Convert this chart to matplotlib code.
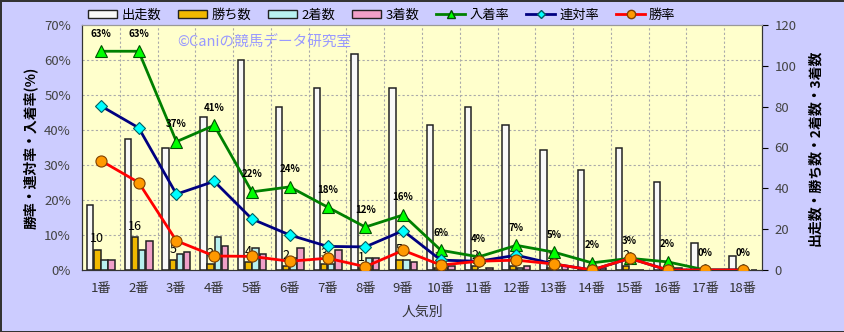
import numpy as np
import matplotlib.pyplot as plt
from matplotlib.patches import Patch
from matplotlib.lines import Line2D

plt.rcParams['font.family'] = ['Noto Sans CJK JP', 'DejaVu Sans']

# 人気別の成績
cats = [f"{i}番" for i in range(1, 19)]
starts = [32, 64, 60, 75, 103, 80, 89, 106, 89, 71, 80, 71, 59, 49, 60, 43, 13, 7]
wins = [10, 16, 5, 3, 4, 2, 3, 1, 5, 1, 2, 2, 1, 0, 2, 0, 0, 0]
seconds = [5, 10, 8, 16, 11, 6, 3, 6, 5, 1, 0, 1, 0, 0, 0, 0, 0, 0]
thirds = [5, 14, 9, 12, 8, 11, 10, 6, 4, 2, 1, 2, 2, 1, 0, 1, 0, 0]

s = np.array(starts, dtype=float)
w = np.array(wins)
win_rate = w / s * 100
rentai_rate = (w + np.array(seconds)) / s * 100
place_rate = (w + np.array(seconds) + np.array(thirds)) / s * 100

x = np.arange(len(cats))

fig = plt.figure(figsize=(8.45, 3.32), dpi=100)
fig.patch.set_facecolor('#CCCCFF')
fig.patch.set_edgecolor('#333333')
fig.patch.set_linewidth(2)

ax = fig.add_axes([82/845, 1-270/332, 680/845, 245/332])  # 件数（右軸）
ax.set_facecolor('#FFFFCC')
ax2 = ax.twinx()  # 率（左軸）

# 棒グラフ
bw = 0.17
step = 0.19
edge = '#222222'
ax.bar(x - 1.5*step, starts, bw, color='#F8F8F8', edgecolor=edge, linewidth=1.1, zorder=3)
ax.bar(x - 0.5*step, wins, bw, color='#F0B800', edgecolor=edge, linewidth=1.1, zorder=3)
ax.bar(x + 0.5*step, seconds, bw, color='#B8F0F0', edgecolor=edge, linewidth=1.1, zorder=3)
ax.bar(x + 1.5*step, thirds, bw, color='#F0A0C8', edgecolor=edge, linewidth=1.1, zorder=3)

for i in range(len(cats)):
    if wins[i] > 0:
        ax.annotate(str(wins[i]), (x[i] - 0.5*step, wins[i]), xytext=(0, 3),
                    textcoords='offset points', ha='center', va='bottom', fontsize=9, zorder=4)

# グリッド
grid_kw = dict(color='#AAAAAA', linewidth=0.8, linestyle=(0, (2, 2)), zorder=1)
ax.hlines([10, 20, 30, 40, 50, 60], 0, 1, transform=ax2.get_yaxis_transform(), **grid_kw)
ax.set_xticks(np.arange(0.5, 17.5, 1), minor=True)
ax.grid(which='minor', axis='x', **{k: v for k, v in grid_kw.items() if k != 'zorder'})
ax.set_axisbelow(True)

ax.set_xlim(-0.5, 17.5)
ax.set_ylim(0, 120)
ax.set_yticks(range(0, 121, 20))
ax.set_xticks(x)
ax.set_xticklabels(cats, fontsize=9.5, color='#333333')
ax.tick_params(axis='x', which='both', length=0, pad=8.5)
ax.yaxis.tick_right()
ax.tick_params(axis='y', labelsize=9.5, labelcolor='#444444', length=4, pad=5, direction='out')
ax.set_xlabel('人気別', fontsize=10, color='#333333', labelpad=7)

# 折れ線グラフ
ax2.plot(x, place_rate, color='#008000', lw=2, marker='^', ms=9,
         mfc='#00FF00', mec='#005000', mew=0.8, zorder=5)
ax2.plot(x, rentai_rate, color='#000080', lw=2, marker='D', ms=6,
         mfc='#00FFFF', mec='#006060', mew=0.8, zorder=6)
ax2.plot(x, win_rate, color='#FF0000', lw=2, marker='o', ms=8,
         mfc='#FF9900', mec='#804000', mew=0.8, zorder=7)

for i in range(len(cats)):
    ax2.annotate(f"{int(place_rate[i] + 0.5)}%", (x[i], place_rate[i]), xytext=(0, 9),
                 textcoords='offset points', ha='center', va='bottom',
                 fontsize=7, fontweight='bold', zorder=8)

ax2.set_ylim(0, 70)
ax2.set_yticks(range(0, 71, 10))
ax2.set_yticklabels([f"{v}%" for v in range(0, 71, 10)])
ax2.yaxis.tick_left()
ax2.tick_params(axis='y', labelsize=9.5, labelcolor='#444444', length=0, pad=8)

for a in (ax, ax2):
    a.spines['top'].set_color('#999999')
    a.spines['left'].set_color('#333333')
    a.spines['bottom'].set_color('#333333')
    a.spines['right'].set_color('#333333')

fig.text(30/845, 1-148/332, '勝率・連対率・入着率(%)', rotation=90, ha='center', va='center',
         fontsize=10, fontweight='bold')
fig.text(815/845, 1-148/332, '出走数・勝ち数・2着数・3着数', rotation=90, ha='center', va='center',
         fontsize=10, fontweight='bold')

fig.text(177/845, 1-43/332, '©Caniの競馬データ研究室', ha='left', va='center',
         fontsize=10.5, color='#9999FF')

handles = [
    Patch(facecolor='#F8F8F8', edgecolor=edge),
    Patch(facecolor='#F0B800', edgecolor=edge),
    Patch(facecolor='#B8F0F0', edgecolor=edge),
    Patch(facecolor='#F0A0C8', edgecolor=edge),
    Line2D([], [], color='#008000', lw=2, marker='^', ms=6, mfc='#00FF00', mec='#005000'),
    Line2D([], [], color='#000080', lw=2, marker='D', ms=4.5, mfc='#00FFFF', mec='#006060'),
    Line2D([], [], color='#FF0000', lw=2, marker='o', ms=6, mfc='#FF9900', mec='#804000'),
]
labels = ['出走数', '勝ち数', '2着数', '3着数', '入着率', '連対率', '勝率']
fig.legend(handles, labels, loc='center', bbox_to_anchor=(382/845, 1-15/332), ncol=7,
           frameon=False, fontsize=9.5, handlelength=2.2, handleheight=0.6,
           columnspacing=1.3, handletextpad=0.3, borderaxespad=0)

fig.savefig('out.png', dpi=100)
